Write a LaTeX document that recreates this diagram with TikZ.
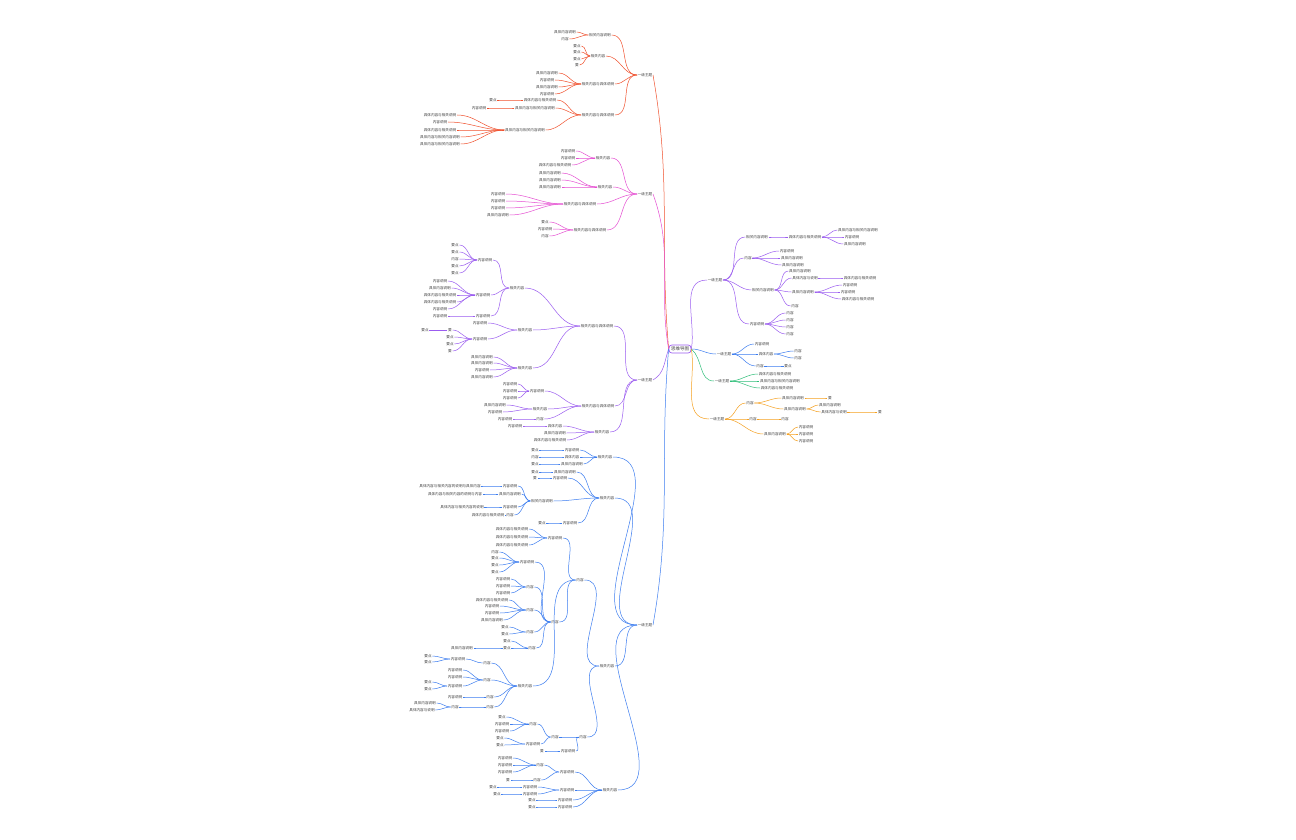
\documentclass[tikz,border=0pt]{standalone}
\usepackage{fontspec}
\newfontfamily\cjk{Noto Sans CJK SC}
\begin{document}
\begin{tikzpicture}[x=1pt,y=-1pt,
 t/.style={font=\cjk\fontsize{3.6}{4}\selectfont,inner sep=0.6pt,text=black!75},
 cn/.style={line width=0.5pt}]
\definecolor{mR}{HTML}{F0502D}\definecolor{mM}{HTML}{E64FD2}\definecolor{mP}{HTML}{9B5CF0}
\definecolor{mB}{HTML}{3C7DF0}\definecolor{mG}{HTML}{2DBE78}\definecolor{mO}{HTML}{F5A020}
\useasboundingbox (0,0) rectangle (1296,840);
\fill[white] (0,0) rectangle (1296,840);
\newcommand\LL[6]{\node[t] (#2) at (#3,#4) {#5}; \draw[#1,cn] (#6.west) to[out=180,in=0] (#2.east);}
\newcommand\RR[6]{\node[t] (#2) at (#3,#4) {#5}; \draw[#1,cn] (#6.east) to[out=0,in=180] (#2.west);}
\node[t,draw=mP,rounded corners=3pt,line width=0.7pt,inner sep=2pt,font=\cjk\fontsize{4.5}{5}\selectfont] (C) at (680,349) {思维导图};
% main left
\node[t] (R) at (645,75) {一级主题};
\node[t] (M) at (645,194) {一级主题};
\node[t] (P) at (645,380) {一级主题};
\node[t] (B) at (645,625) {一级主题};
\draw[mR,cn] (C.west) to[out=95,in=-80] (R.east);
\draw[mM,cn] (C.west) to[out=100,in=-70] (M.east);
\draw[mP,cn] (C.west) to[out=-110,in=30] (P.east);
\draw[mB,cn] (C.west) to[out=-95,in=80] (B.east);
% red
\LL{mR}{r1}{600}{35}{相关内容说明}{R}
\LL{mR}{r11}{565}{32}{具体内容说明}{r1}\LL{mR}{r12}{565}{39}{内容}{r1}
\LL{mR}{r2}{598}{56}{相关内容}{R}
\LL{mR}{r21}{577}{46}{要点}{r2}\LL{mR}{r22}{577}{52}{要点}{r2}\LL{mR}{r23}{577}{59}{要点}{r2}\LL{mR}{r24}{577}{65}{要}{r2}
\LL{mR}{r3}{598}{84}{相关内容与具体说明}{R}
\LL{mR}{r31}{547}{73}{具体内容说明}{r3}\LL{mR}{r32}{547}{80}{内容说明}{r3}\LL{mR}{r33}{547}{87}{具体内容说明}{r3}\LL{mR}{r34}{547}{94}{内容说明}{r3}
\LL{mR}{r4}{598}{115}{相关内容与具体说明}{R}
\LL{mR}{r41}{540}{100}{具体内容与相关说明}{r4}\LL{mR}{r411}{493}{100}{要点}{r41}
\LL{mR}{r42}{535}{108}{具体内容与相关内容说明}{r4}\LL{mR}{r421}{479}{108}{内容说明}{r42}
\LL{mR}{r43}{525}{130}{具体内容与相关内容说明}{r4}
\LL{mR}{r431}{440}{115}{具体内容与相关说明}{r43}\LL{mR}{r432}{440}{122}{内容说明}{r43}\LL{mR}{r433}{440}{130}{具体内容与相关说明}{r43}\LL{mR}{r434}{440}{137}{具体内容与相关内容说明}{r43}\LL{mR}{r435}{440}{144}{具体内容与相关内容说明}{r43}
% magenta
\LL{mM}{m1}{603}{158}{相关内容}{M}
\LL{mM}{m11}{568}{151}{内容说明}{m1}\LL{mM}{m12}{568}{158}{内容说明}{m1}\LL{mM}{m13}{555}{165}{具体内容与相关说明}{m1}
\LL{mM}{m2}{605}{187}{相关内容}{M}
\LL{mM}{m21}{550}{173}{具体内容说明}{m2}\LL{mM}{m22}{550}{180}{具体内容说明}{m2}\LL{mM}{m23}{550}{187}{具体内容说明}{m2}
\LL{mM}{m3}{580}{204}{相关内容与具体说明}{M}
\LL{mM}{m31}{498}{194}{内容说明}{m3}\LL{mM}{m32}{498}{201}{内容说明}{m3}\LL{mM}{m33}{498}{208}{内容说明}{m3}\LL{mM}{m34}{498}{215}{具体内容说明}{m3}
\LL{mM}{m4}{590}{230}{相关内容与具体说明}{M}
\LL{mM}{m41}{545}{222}{要点}{m4}\LL{mM}{m42}{545}{229}{内容说明}{m4}\LL{mM}{m43}{545}{236}{内容}{m4}
% purple left
\LL{mP}{p1}{597}{326}{相关内容与具体说明}{P}
\LL{mP}{p1a}{517}{288}{相关内容}{p1}
\LL{mP}{p1a1}{485}{260}{内容说明}{p1a}
\foreach \y/\s in {245/要点,252/要点,259/内容,266/要点,273/要点}{\LL{mP}{x\y}{455}{\y}{\s}{p1a1}}
\LL{mP}{p1a2}{483}{295}{内容说明}{p1a}
\foreach \y/\s in {281/内容说明,288/具体内容说明,295/具体内容与相关说明,302/具体内容与相关说明,309/内容说明}{\LL{mP}{x\y}{440}{\y}{\s}{p1a2}}
\LL{mP}{p1a3}{483}{316}{内容说明}{p1a}\LL{mP}{x316}{440}{316}{内容说明}{p1a3}
\LL{mP}{p1b}{525}{330}{相关内容}{p1}
\LL{mP}{p1b1}{480}{323}{内容说明}{p1b}
\LL{mP}{p1b2}{480}{339}{内容说明}{p1b}
\foreach \y/\s in {330/要,337/要点,344/要点,351/要}{\LL{mP}{x\y}{450}{\y}{\s}{p1b2}}
\node[t] (x330b) at (425,330) {要点};
\draw[mP,cn] (x330.west) -- (x330b.east);
\LL{mP}{p1c}{525}{368}{相关内容}{p1}
\foreach \y/\s in {357/具体内容说明,363/具体内容说明,370/内容说明,377/具体内容说明}{\LL{mP}{x\y}{482}{\y}{\s}{p1c}}
\LL{mP}{p2}{598}{406}{相关内容与具体说明}{P}
\LL{mP}{p21}{537}{391}{内容说明}{p2}
\foreach \y/\s in {384/内容说明,391/内容说明,398/内容说明}{\LL{mP}{x\y}{510}{\y}{\s}{p21}}
\LL{mP}{p22}{540}{409}{相关内容}{p2}
\LL{mP}{x405}{495}{405}{具体内容说明}{p22}\LL{mP}{x412}{495}{412}{内容说明}{p22}
\LL{mP}{p23}{540}{419}{内容}{p2}\LL{mP}{x419}{505}{419}{内容说明}{p23}
\LL{mP}{p3}{602}{432}{相关内容}{P}
\LL{mP}{p31}{555}{426}{具体内容}{p3}\LL{mP}{x426}{515}{426}{内容说明}{p31}
\LL{mP}{p32}{555}{433}{具体内容说明}{p3}\LL{mP}{p33}{550}{440}{具体内容与相关说明}{p3}
% blue left
\LL{mB}{b1}{605}{457}{相关内容}{B}
\foreach \y/\s in {450/内容说明,457/具体内容,464/具体内容说明}{\LL{mB}{y\y}{572}{\y}{\s}{b1}}
\foreach \y/\s in {450/要点,457/内容,464/要点}{\LL{mB}{z\y}{535}{\y}{\s}{y\y}}
\LL{mB}{b2}{607}{498}{相关内容}{B}
\LL{mB}{b21}{565}{472}{具体内容说明}{b2}\LL{mB}{z472}{535}{472}{要点}{b21}
\LL{mB}{b22}{560}{478}{内容说明}{b2}\LL{mB}{z478}{535}{478}{要}{b22}
\LL{mB}{b23}{542}{501}{相关内容说明}{b2}
\foreach \y/\s in {486/内容说明,494/具体内容说明,507/内容说明,515/内容}{\LL{mB}{y\y}{510}{\y}{\s}{b23}}
\LL{mB}{z486}{450}{486}{具体内容与相关内容的说明与具体内容}{y486}
\LL{mB}{z494}{455}{494}{具体内容与相关内容的说明与内容}{y494}
\LL{mB}{z507}{462}{507}{具体内容与相关内容的说明}{y507}
\LL{mB}{z515}{488}{515}{具体内容与相关说明}{y515}
\LL{mB}{b24}{570}{523}{内容说明}{b2}\LL{mB}{z523}{542}{523}{要点}{b24}
\LL{mB}{b3}{607}{666}{相关内容}{B}
\LL{mB}{b31}{580}{580}{内容}{b3}
\LL{mB}{b311}{555}{538}{内容说明}{b31}
\foreach \y/\s in {529/具体内容与相关说明,537/具体内容与相关说明,545/具体内容与相关说明}{\LL{mB}{y\y}{512}{\y}{\s}{b311}}
\LL{mB}{b312}{555}{622}{内容}{b31}
\LL{mB}{q1}{527}{562}{内容说明}{b312}
\foreach \y/\s in {552/内容,558/要点,565/要点,572/要点}{\LL{mB}{y\y}{495}{\y}{\s}{q1}}
\LL{mB}{q2}{530}{587}{内容}{b312}
\foreach \y/\s in {579/内容说明,586/内容说明,593/内容说明}{\LL{mB}{y\y}{503}{\y}{\s}{q2}}
\LL{mB}{q3}{530}{610}{内容}{b312}
\foreach \y/\s in {600/具体内容与相关说明,606/内容说明,613/内容说明,620/具体内容说明}{\LL{mB}{y\y}{492}{\y}{\s}{q3}}
\LL{mB}{q4}{530}{632}{内容}{b312}
\foreach \y/\s in {627/要点,634/要点}{\LL{mB}{y\y}{505}{\y}{\s}{q4}}
\LL{mB}{q5}{532}{648}{内容}{b312}
\foreach \y/\s in {641/要点,648/要点}{\LL{mB}{y\y}{507}{\y}{\s}{q5}}
\LL{mB}{z648}{462}{648}{具体内容说明}{y648}
\LL{mB}{b32}{525}{686}{相关内容}{b31}
\LL{mB}{w1}{487}{663}{内容}{b32}\LL{mB}{w11}{458}{659}{内容说明}{w1}
\LL{mB}{v656}{428}{656}{要点}{w11}\LL{mB}{v662}{428}{662}{要点}{w11}
\LL{mB}{w2}{487}{680}{内容}{b32}
\foreach \y/\s in {670/内容说明,677/内容说明,686/内容说明}{\LL{mB}{y\y}{455}{\y}{\s}{w2}}
\LL{mB}{v682}{428}{682}{要点}{y686}\LL{mB}{v689}{428}{689}{要点}{y686}
\LL{mB}{w3}{490}{697}{内容}{b32}\LL{mB}{y697}{455}{697}{内容说明}{w3}
\LL{mB}{w4}{490}{707}{内容}{b32}\LL{mB}{y707}{455}{707}{内容}{w4}
\LL{mB}{v703}{425}{703}{具体内容说明}{y707}\LL{mB}{v710}{422}{710}{具体内容与说明}{y707}
\LL{mB}{b33}{583}{737}{内容}{b3}
\LL{mB}{u1}{555}{737}{内容}{b33}
\LL{mB}{u11}{533}{724}{内容}{u1}
\foreach \y/\s in {717/要点,724/内容说明,731/内容说明}{\LL{mB}{y\y}{502}{\y}{\s}{u11}}
\LL{mB}{u12}{533}{744}{内容说明}{u1}
\foreach \y/\s in {738/要点,745/要点}{\LL{mB}{y\y}{500}{\y}{\s}{u12}}
\LL{mB}{u2}{568}{751}{内容说明}{b33}\LL{mB}{y751}{542}{751}{要}{u2}
\LL{mB}{b4}{610}{790}{相关内容}{B}
\LL{mB}{s1}{567}{772}{内容说明}{b4}
\LL{mB}{s11}{540}{765}{内容}{s1}
\foreach \y/\s in {758/内容说明,765/内容说明,772/内容说明}{\LL{mB}{y\y}{505}{\y}{\s}{s11}}
\LL{mB}{s12}{537}{780}{内容}{s1}\LL{mB}{y780}{508}{780}{要}{s12}
\LL{mB}{s2}{567}{790}{内容说明}{b4}
\LL{mB}{s21}{530}{787}{内容说明}{s2}\LL{mB}{y787}{493}{787}{要点}{s21}
\LL{mB}{s22}{530}{794}{内容说明}{s2}\LL{mB}{y794}{497}{794}{要点}{s22}
\LL{mB}{s3}{565}{800}{内容说明}{b4}\LL{mB}{y800}{532}{800}{要点}{s3}
\LL{mB}{s4}{565}{807}{内容说明}{b4}\LL{mB}{y807}{532}{807}{要点}{s4}
% right
\node[t] (Q) at (715,280) {一级主题};
\node[t] (W) at (724,354) {一级主题};
\node[t] (G) at (722,381) {一级主题};
\node[t] (O) at (717,419) {一级主题};
\draw[mP,cn] (C.east) to[out=80,in=180] (Q.west);
\draw[mB,cn] (C.east) to[out=0,in=180] (W.west);
\draw[mG,cn] (C.east) to[out=-40,in=180] (G.west);
\draw[mO,cn] (C.east) to[out=-80,in=180] (O.west);
\RR{mP}{q1r}{757}{237}{相关内容说明}{Q}\RR{mP}{q11}{805}{237}{具体内容与相关说明}{q1r}
\RR{mP}{k1}{858}{230}{具体内容与相关内容说明}{q11}\RR{mP}{k2}{852}{237}{内容说明}{q11}\RR{mP}{k3}{855}{244}{具体内容说明}{q11}
\RR{mP}{q2r}{748}{258}{内容}{Q}
\RR{mP}{k4}{787}{251}{内容说明}{q2r}\RR{mP}{k5}{792}{258}{具体内容说明}{q2r}\RR{mP}{k6}{793}{265}{具体内容说明}{q2r}
\RR{mP}{q3r}{763}{290}{相关内容说明}{Q}
\RR{mP}{k7}{800}{271}{具体内容说明}{q3r}\RR{mP}{k8}{805}{278}{具体内容与说明}{q3r}\RR{mP}{k81}{860}{278}{具体内容与相关说明}{k8}
\RR{mP}{k9}{803}{292}{具体内容说明}{q3r}
\RR{mP}{k91}{850}{285}{内容说明}{k9}\RR{mP}{k92}{848}{292}{内容说明}{k9}\RR{mP}{k93}{858}{299}{具体内容与相关说明}{k9}
\RR{mP}{k10}{795}{306}{内容}{q3r}
\RR{mP}{q4r}{757}{324}{内容说明}{Q}
\foreach \y in {313,320,327,334}{\RR{mP}{k\y}{790}{\y}{内容}{q4r}}
\RR{mB}{w1r}{762}{344}{内容说明}{W}\RR{mB}{w2r}{766}{354}{具体内容}{W}\RR{mB}{w3r}{760}{366}{内容}{W}
\RR{mB}{w21}{798}{351}{内容}{w2r}\RR{mB}{w22}{798}{358}{内容}{w2r}\RR{mB}{w31}{788}{366}{要点}{w3r}
\RR{mG}{g1}{775}{374}{具体内容与相关说明}{G}\RR{mG}{g2}{780}{381}{具体内容与相关内容说明}{G}\RR{mG}{g3}{777}{388}{具体内容与相关说明}{G}
\RR{mO}{o1}{750}{403}{内容}{O}
\RR{mO}{o11}{793}{398}{具体内容说明}{o1}\RR{mO}{o111}{830}{398}{要}{o11}
\RR{mO}{o12}{795}{409}{具体内容说明}{o1}
\RR{mO}{o121}{830}{405}{具体内容说明}{o12}\RR{mO}{o122}{834}{412}{具体内容与说明}{o12}\RR{mO}{o1221}{880}{412}{要}{o122}
\RR{mO}{o2}{753}{419}{内容}{O}\RR{mO}{o21}{785}{419}{内容}{o2}
\RR{mO}{o3}{775}{434}{具体内容说明}{O}
\RR{mO}{o31}{806}{427}{内容说明}{o3}\RR{mO}{o32}{806}{434}{内容说明}{o3}\RR{mO}{o33}{806}{441}{内容说明}{o3}
\end{tikzpicture}
\end{document}
